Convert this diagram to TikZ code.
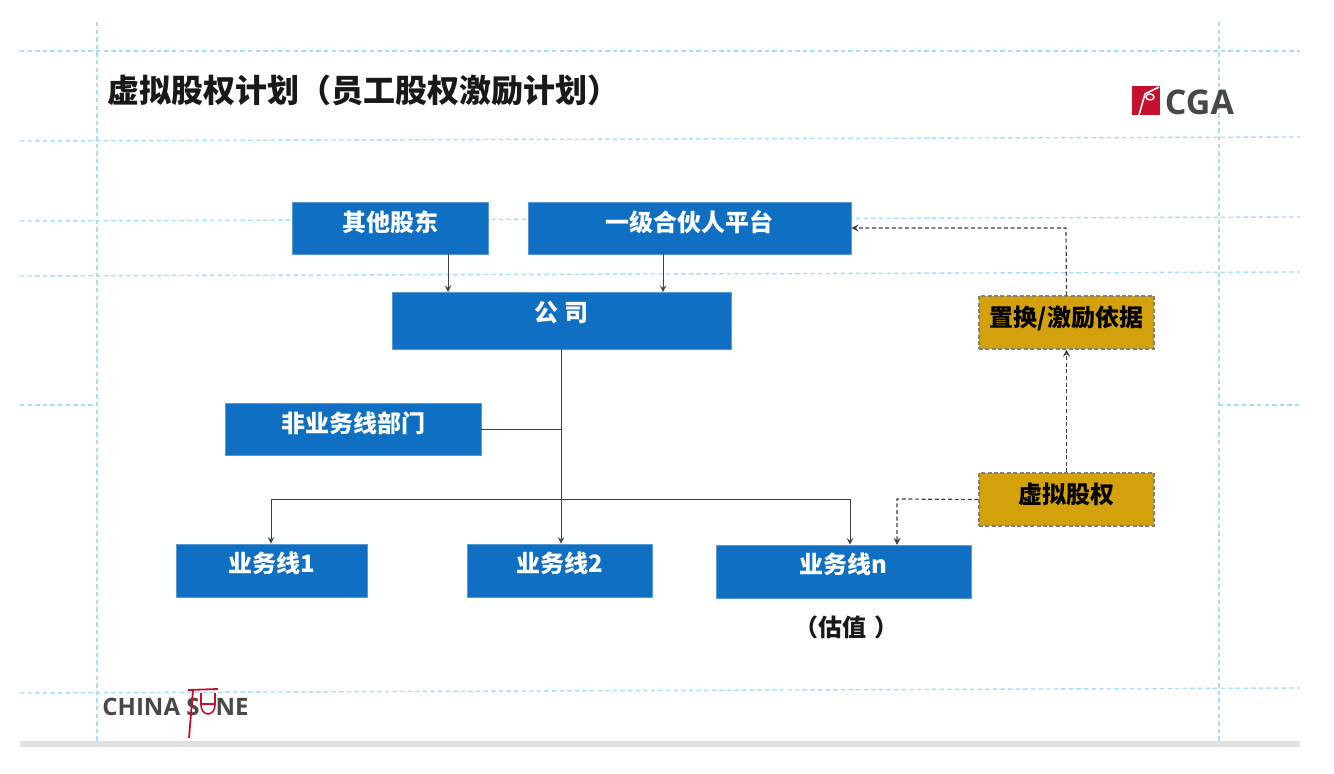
\documentclass[tikz,border=0pt]{standalone}
\usepackage{xcolor}
\usepackage{fontspec}
\setmainfont{Noto Sans CJK SC}
\newfontfamily\logofont{Open Sans}
\usepackage{tikz}
\usetikzlibrary{calc}
\usetikzlibrary{arrows}

\definecolor{boxblue}{HTML}{0F6FC2}
\definecolor{boxgold}{HTML}{D3A10B}
\definecolor{guideblue}{HTML}{A8DDF2}
\definecolor{logored}{HTML}{C8102E}
\definecolor{logogrey}{HTML}{48484A}

\tikzset{
  bluebox/.style={fill=boxblue,draw=boxblue!70!white,thin,inner sep=0,text=white,font=\bfseries\fontsize{12}{14}\selectfont,text height=9pt,text depth=5pt},
  goldbox/.style={fill=boxgold,draw=gray,line width=0.6pt,dash pattern=on 2pt off 1.2pt,inner sep=0,text=black,font=\bfseries\fontsize{12}{14}\selectfont,text height=9pt,text depth=5pt},
  guide/.style={guideblue,line width=0.7pt,dash pattern=on 2.2pt off 1.6pt},
  link/.style={line width=0.45pt,->,>=stealth,black!75},
  dashlink/.style={line width=0.6pt,->,>=stealth,dash pattern=on 2pt off 1.3pt,black!75}
}

\begin{document}
\begin{tikzpicture}[x=0.5pt,y=-0.5pt]
        \useasboundingbox (0,0) rectangle (1334,774);

        % Guides
        \fill[black!12] (20,741) rectangle (1300,747);
        \foreach \ya/\yb in {51/51,141/137,221/217,276/272,693/688}
          \draw[guide] (20,\ya) -- (1300,\yb);
        \draw[guide] (20,405) -- (97,405);
        \draw[guide] (1219,405) -- (1300,405);
        \foreach \x in {97,1219}
          \draw[guide] (\x,22) -- (\x,741);

        % Title
        \draw (107,90) node(title) [anchor=west,inner sep=0,black!90,font=\bfseries\fontsize{16}{18}\selectfont] {虚拟股权计划（员工股权激励计划）};

        % Nodes
        \draw (390,228) node(holders) [bluebox,minimum width=98pt,minimum height=26pt] {其他股东};
        \draw (689.5,228) node(partner) [bluebox,minimum width=161.5pt,minimum height=26pt] {一级合伙人平台};
        \draw (561.5,320.5) node(company) [bluebox,minimum width=169.5pt,minimum height=28.5pt,text height=8pt,text depth=7pt] {公 司};
        \draw (353,429) node(nonline) [bluebox,minimum width=128pt,minimum height=26pt] {非业务线部门};
        \draw (271.5,570.5) node(line1) [bluebox,minimum width=95.5pt,minimum height=26.5pt,text height=8.5pt,text depth=6.5pt] {业务线1};
        \draw (559.5,570.5) node(line2) [bluebox,minimum width=92.5pt,minimum height=26.5pt,text height=8.5pt,text depth=6.5pt] {业务线2};
        \draw (843.5,571.5) node(linen) [bluebox,minimum width=127.5pt,minimum height=26.5pt,text height=8.5pt,text depth=6.5pt] {业务线n};
        \draw (1066.5,322.5) node(basis) [goldbox,minimum width=87.5pt,minimum height=26.5pt] {置换/激励依据};
        \draw (1066.5,499.5) node(virtual) [goldbox,minimum width=87.5pt,minimum height=26.5pt] {虚拟股权};
        \draw (846,627) node(value) [black!90,font=\bfseries\fontsize{12}{14}\selectfont] {（估值\hspace{4pt}）};

        % Joints
        \coordinate (c1) at (448,292);
        \coordinate (c2) at (663,292);
        \coordinate (c3) at (561,429);
        \coordinate (c4) at (561,499);
        \coordinate (c5) at (271,499);
        \coordinate (c6) at (850,499);
        \coordinate (c7) at (897,499);
        \coordinate (c8) at (897,545);
        \coordinate (c9) at (1066,228);

        % Edges
        \draw[link] (holders.south -| c1) -- (c1);
        \draw[link] (partner.south -| c2) -- (c2);
        \draw[link] (company.south -| c4) -- (line2.north -| c4);
        \draw[link,-] (nonline.east) -- (c3);
        \draw[link] (c5) -- (line1.north -| c5);
        \draw[link,-] (c5) -- (c6);
        \draw[link] (c6) -- (linen.north -| c6);
        \draw[dashlink] (virtual.west) -- (c7) -- (c8);
        \draw[dashlink] (virtual.north -| basis.south) -- (basis.south);
        \draw[dashlink] (basis.north) -- (c9) -- (partner.east |- c9);

        % CGA logo
        \fill[logored] (1132,86) rectangle (1160,115);
        \draw[white,line width=0.8pt] (1139,115) -- (1145,94) -- (1159,87);
        \draw[white,line width=0.7pt] (1150,97) circle [x radius=4,y radius=3];
        \draw (1199.5,102) node(cga) [inner sep=0,logogrey,font=\logofont\bfseries\fontsize{17}{20}\selectfont] {CGA};

        % China Stone logo
        \draw (102,707) node(china) [anchor=west,inner sep=0,logogrey,font=\logofont\bfseries\fontsize{12}{14}\selectfont] {CHINA S};
        \draw (249,707) node(stone) [anchor=east,inner sep=0,logogrey,font=\logofont\bfseries\fontsize{12}{14}\selectfont] {NE};
        \draw[logored,line width=0.9pt] (188,690) -- (218,689);
        \draw[logored,line width=0.9pt] (193,690) -- (189,738);
        \draw[logored,line width=0.8pt] (201,693) -- (201,705) arc [start angle=180,end angle=0,x radius=7,y radius=9] -- (215,693);
        \draw[logored,line width=0.7pt] (201,704) -- (215,704);
\end{tikzpicture}
\end{document}
